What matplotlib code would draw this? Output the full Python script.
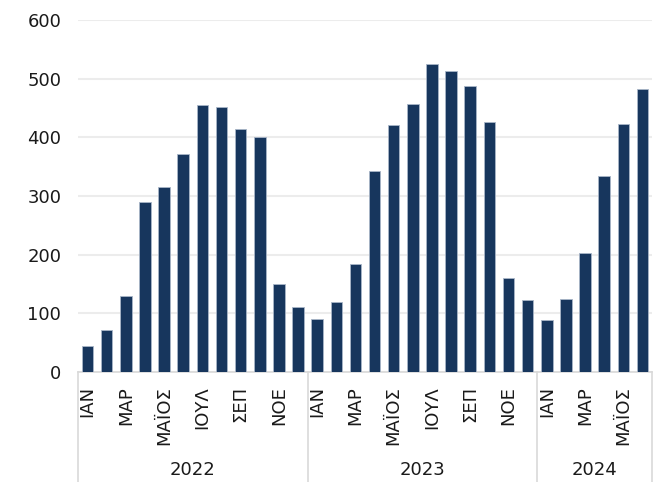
import matplotlib
matplotlib.use('Agg')
import matplotlib.pyplot as plt

months = ['ΙΑΝ', 'ΦΕΒ', 'ΜΑΡ', 'ΑΠΡ', 'ΜΑΪΟΣ', 'ΙΟΥΝ',
          'ΙΟΥΛ', 'ΑΥΓ', 'ΣΕΠ', 'ΟΚΤ', 'ΝΟΕ', 'ΔΕΚ']
years = ['2022', '2023', '2024']
values_2022 = [44, 72, 129, 289, 315, 372, 455, 451, 414, 401, 150, 110]
values_2023 = [90, 119, 184, 343, 421, 457, 525, 513, 488, 426, 160, 123]
values_2024 = [88, 125, 202, 334, 422, 482]

series = [values_2022, values_2023, values_2024]
values = values_2022 + values_2023 + values_2024
x = list(range(len(values)))

fig = plt.figure(figsize=(6.56, 4.82), dpi=100)
ax = fig.add_axes([78 / 656, 110 / 482, 574 / 656, 352 / 482])

ax.bar(x, values, width=0.6, color='#17365d', edgecolor='#a9b6c8', linewidth=0.6, zorder=3)

ax.set_xlim(-0.5, len(values) - 0.5)
ax.set_ylim(0, 600)
ax.set_yticks(range(0, 601, 100))
ax.grid(axis='y', color='#ececec', linewidth=1.5, zorder=0)
ax.tick_params(axis='y', length=0, labelsize=13, pad=12, labelcolor='#1a1a1a')

# month ticks, every second one labelled
ticks = []
labels = []
pos = 0
for vals in series:
    for i in range(0, len(vals), 2):
        ticks.append(pos + i)
        labels.append(months[i])
    pos += len(vals)
ax.set_xticks(ticks)
ax.set_xticklabels(labels, rotation=90, fontsize=13, color='#1a1a1a')
ax.tick_params(axis='x', length=0, pad=10)

for s in ['top', 'right', 'left']:
    ax.spines[s].set_visible(False)
ax.spines['bottom'].set_color('#d9d9d9')
ax.spines['bottom'].set_linewidth(1.2)

# year group separators and labels
trans = ax.get_xaxis_transform()
bottom = -110 / 352
pos = 0
edges = [-0.5]
for yr, vals in zip(years, series):
    ax.text(pos + (len(vals) - 1) / 2, -0.278, yr, transform=trans,
            ha='center', va='center', fontsize=13, color='#1a1a1a')
    pos += len(vals)
    edges.append(pos - 0.5)
for e in edges:
    ax.plot([e, e], [0, bottom], transform=trans, color='#d9d9d9',
            linewidth=1.2, clip_on=False)

fig.savefig('out.png', dpi=100)
